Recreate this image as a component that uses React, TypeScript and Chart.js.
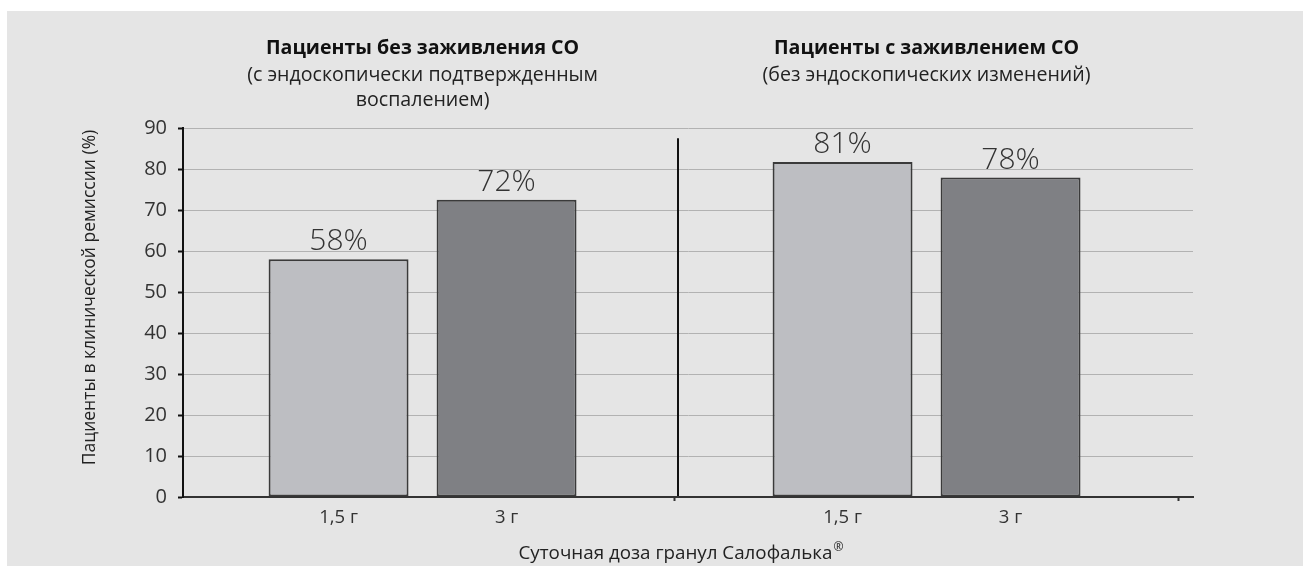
import React, { useEffect, useRef } from 'react';
import { Chart, registerables } from 'chart.js';

Chart.register(...registerables);

// ---- data ----
const CATEGORY_LABELS = ['1,5 г', '3 г', '', '1,5 г', '3 г', ''];
const BAR_SLOTS = [0, 1, 3, 4];
const BAR_VALUES = [58, 72.5, 81.7, 77.9];
const VALUE_LABELS = ['58%', '72%', '81%', '78%'];
const BAR_COLORS = ['#bdbec2', '#7f8084', '#bdbec2', '#7f8084'];
const X_TICK_MARK_SLOTS = [2, 5];
const GROUP_CENTERS = [0.5, 3.5];
const GROUP_TITLES = ['Пациенты без заживления СО', 'Пациенты с заживлением СО'];
const GROUP_SUBTITLES = [
  ['(с эндоскопически подтвержденным', 'воспалением)'],
  ['(без эндоскопических изменений)'],
];
const DIVIDER_SLOT = 2;
const DIVIDER_RANGE = [0.25, 87.5];
const Y_MIN = 0;
const Y_MAX = 90;
const Y_STEP = 10;
const Y_TITLE = 'Пациенты в клинической ремиссии (%)';
const X_TITLE = 'Суточная доза гранул Салофалька';
const X_TITLE_MARK = '®';

const FONT = '"Open Sans", "Noto Sans", sans-serif';

const overlayPlugin = {
  id: 'overlay',
  afterDatasetsDraw(chart: any) {
    const { ctx, chartArea, scales } = chart;
    const x = scales.x;
    const y = scales.y;
    ctx.save();
    // divider
    ctx.strokeStyle = '#111';
    ctx.lineWidth = 2;
    ctx.beginPath();
    const dx = Math.round(x.getPixelForValue(DIVIDER_SLOT)) + 3;
    ctx.moveTo(dx, y.getPixelForValue(DIVIDER_RANGE[1]));
    ctx.lineTo(dx, y.getPixelForValue(DIVIDER_RANGE[0]));
    ctx.stroke();

    // value labels
    const meta = chart.getDatasetMeta(0);
    ctx.fillStyle = '#333';
    ctx.font = `300 30px ${FONT}`;
    ctx.textAlign = 'center';
    ctx.textBaseline = 'alphabetic';
    meta.data.forEach((bar: any, i: number) => {
      ctx.fillText(VALUE_LABELS[i], bar.x, bar.y - 9);
    });

    // group titles
    ctx.textBaseline = 'middle';
    GROUP_CENTERS.forEach((c, i) => {
      const cx = x.getPixelForValue(c);
      ctx.fillStyle = '#111';
      ctx.font = `bold 19.6px ${FONT}`;
      ctx.fillText(GROUP_TITLES[i], cx, chartArea.top - 80);
      ctx.fillStyle = '#222';
      ctx.font = `19.6px ${FONT}`;
      GROUP_SUBTITLES[i].forEach((line, j) => {
        ctx.fillText(line, cx, chartArea.top - 53 + j * 25);
      });
    });

    // x title with superscript mark
    ctx.fillStyle = '#222';
    ctx.font = `18.8px ${FONT}`;
    const mainW = ctx.measureText(X_TITLE).width;
    ctx.font = `12px ${FONT}`;
    const markW = ctx.measureText(X_TITLE_MARK).width;
    const total = mainW + markW + 1;
    const startX = (chartArea.left + chartArea.right) / 2 - 7 - total / 2;
    const ty = chartArea.bottom + 57;
    ctx.textAlign = 'left';
    ctx.font = `18.8px ${FONT}`;
    ctx.fillText(X_TITLE, startX, ty);
    ctx.font = `12px ${FONT}`;
    ctx.fillText(X_TITLE_MARK, startX + mainW + 1, ty - 6);

    // y title
    ctx.textAlign = 'center';
    ctx.font = `17.5px ${FONT}`;
    ctx.translate(chartArea.left - 93, (chartArea.top + chartArea.bottom) / 2 - 15);
    ctx.rotate(-Math.PI / 2);
    ctx.fillText(Y_TITLE, 0, 0);
    ctx.restore();
  },
};

export default function App() {
  const canvasRef = useRef<HTMLCanvasElement | null>(null);

  useEffect(() => {
    if (!canvasRef.current) return;
    const chart = new Chart(canvasRef.current, {
      type: 'bar',
      data: {
        datasets: [
          {
            data: BAR_SLOTS.map((s, i) => ({ x: s, y: BAR_VALUES[i] })),
            backgroundColor: BAR_COLORS,
            borderColor: '#3a3a3a',
            borderWidth: 2,
            borderSkipped: false,
            categoryPercentage: 1,
            barPercentage: 0.833,
          } as any,
        ],
      },
      options: {
        animation: false,
        responsive: true,
        maintainAspectRatio: false,
        layout: { padding: { top: 117, left: 0, right: 110, bottom: 0 } },
        plugins: {
          legend: { display: false },
          tooltip: { enabled: false },
          title: { display: false },
        },
        scales: {
          x: {
            type: 'linear',
            offset: false,
            min: -0.926,
            max: 5.086,
            afterBuildTicks: (scale: any) => {
              scale.ticks = CATEGORY_LABELS.map((_, i) => ({ value: i }));
            },
            afterFit: (scale: any) => {
              scale.height = 69;
            },
            ticks: {
              autoSkip: false,
              maxRotation: 0,
              padding: 6,
              color: '#333',
              font: { family: FONT, size: 18.5 },
              callback: (v: any) => CATEGORY_LABELS[Math.round(Number(v))] ?? '',
            },
            grid: {
              offset: false,
              drawOnChartArea: false,
              drawTicks: true,
              tickLength: 4,
              tickWidth: 2,
              tickColor: (c: any) =>
                c.tick && X_TICK_MARK_SLOTS.includes(c.tick.value) ? '#333' : 'rgba(0,0,0,0)',
            },
            border: { display: true, color: '#333', width: 2 },
          },
          y: {
            type: 'linear',
            min: Y_MIN,
            max: Y_MAX,
            afterFit: (scale: any) => {
              scale.width = 176;
            },
            ticks: {
              stepSize: Y_STEP,
              padding: 11,
              color: '#333',
              font: { family: FONT, size: 20 },
            },
            grid: {
              color: '#b2b2b2',
              lineWidth: 1,
              tickLength: 5,
              tickColor: '#111',
              tickWidth: 2,
            },
            border: { display: true, color: '#111', width: 2 },
          },
        },
      } as any,
      plugins: [overlayPlugin],
    });
    return () => chart.destroy();
  }, []);

  return (
    <div
      style={{
        position: 'absolute',
        left: 7,
        top: 11,
        width: 1296,
        height: 555,
        background: '#e5e5e5',
      }}
    >
      <canvas ref={canvasRef} />
    </div>
  );
}
